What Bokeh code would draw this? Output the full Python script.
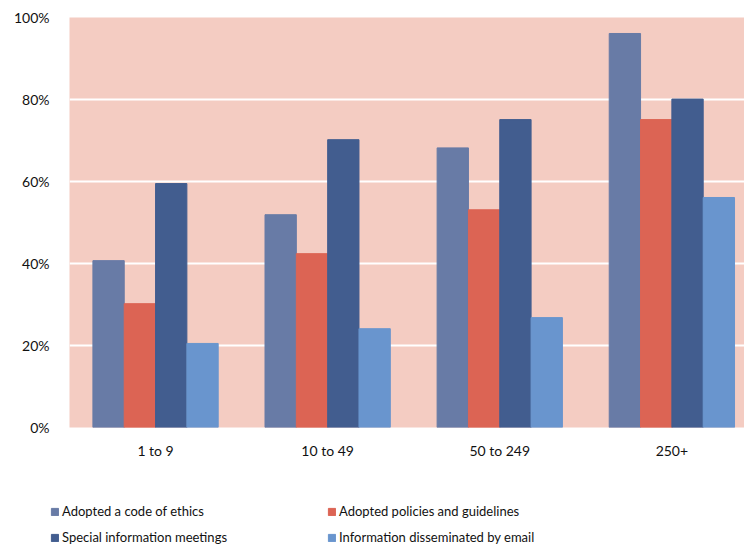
from bokeh.plotting import figure
from bokeh.models import (ColumnDataSource, Range1d, FixedTicker, NumeralTickFormatter,
                          Legend, LegendItem)
from bokeh.embed import file_html
from bokeh.resources import INLINE

categories = ["1 to 9", "10 to 49", "50 to 249", "250+"]
series_names = ["Adopted a code of ethics", "Adopted policies and guidelines",
                "Special information meetings", "Information disseminated by email"]
code_of_ethics = [0.407, 0.519, 0.682, 0.961]
policies = [0.302, 0.424, 0.531, 0.751]
meetings = [0.595, 0.702, 0.751, 0.801]
email = [0.205, 0.241, 0.268, 0.561]
colors = ["#687BA6", "#DC6454", "#425D8F", "#6995CE"]
y_ticks = [0, 0.2, 0.4, 0.6, 0.8, 1.0]

FONT = "Lato"
bar_w = 0.182

p = figure(width=744, height=475, output_backend="svg", toolbar_location=None,
           x_range=Range1d(-0.5, 3.422), y_range=Range1d(0, 1),
           min_border_left=69, min_border_right=0, min_border_top=17,
           min_border_bottom=48)
p.background_fill_color = "#F4CCC2"
p.border_fill_color = "white"
p.outline_line_color = None

all_series = [code_of_ethics, policies, meetings, email]
sources = []
for k, vals in enumerate(all_series):
    off = (k - 1.5) * bar_w
    src = ColumnDataSource(dict(x=[i + off for i in range(len(categories))], top=vals))
    sources.append(src)
    p.vbar(x="x", top="top", width=bar_w, source=src, fill_color=colors[k],
           line_color=colors[k])

p.xaxis.ticker = FixedTicker(ticks=list(range(len(categories))))
p.xaxis.major_label_overrides = {i: c for i, c in enumerate(categories)}
p.yaxis.ticker = FixedTicker(ticks=y_ticks)
p.yaxis.formatter = NumeralTickFormatter(format="0%")
for ax in (p.xaxis[0], p.yaxis[0]):
    ax.axis_line_color = None
    ax.major_tick_line_color = None
    ax.minor_tick_line_color = None
    ax.major_label_text_font = FONT
    ax.major_label_text_font_size = "14px"
    ax.major_label_text_color = "#111111"
p.xaxis.major_label_standoff = 8
p.yaxis.major_label_standoff = 14

p.xgrid.grid_line_color = None
p.ygrid.grid_line_color = "white"
p.ygrid.grid_line_width = 2

# legend panel below the chart (its bar copies sit outside its visible range)
lg = figure(width=744, height=72, output_backend="svg", toolbar_location=None,
            x_range=Range1d(100, 101), y_range=Range1d(100, 101),
            min_border_left=0, min_border_right=0, min_border_top=0, min_border_bottom=0)
lg.axis.visible = False
lg.grid.visible = False
lg.outline_line_color = None
lg.background_fill_color = "white"
legend_renderers = []
for k in range(len(series_names)):
    r = lg.vbar(x="x", top="top", width=bar_w, source=sources[k],
                fill_color=colors[k], line_color=colors[k])
    legend_renderers.append(r)
order = [0, 2, 1, 3]  # legend fills column-wise
items = [LegendItem(label=series_names[k], renderers=[legend_renderers[k]]) for k in order]
legend = Legend(items=items, ncols=2, location=(50, 1),
                glyph_width=9, glyph_height=9, label_standoff=3,
                label_width=257, label_height=18, spacing=8,
                padding=0, margin=0, border_line_color=None,
                background_fill_alpha=0,
                label_text_font=FONT, label_text_font_size="13px",
                label_text_color="#111111")
lg.add_layout(legend, "center")

open("out.html", "w").write(file_html([p, lg], INLINE))
